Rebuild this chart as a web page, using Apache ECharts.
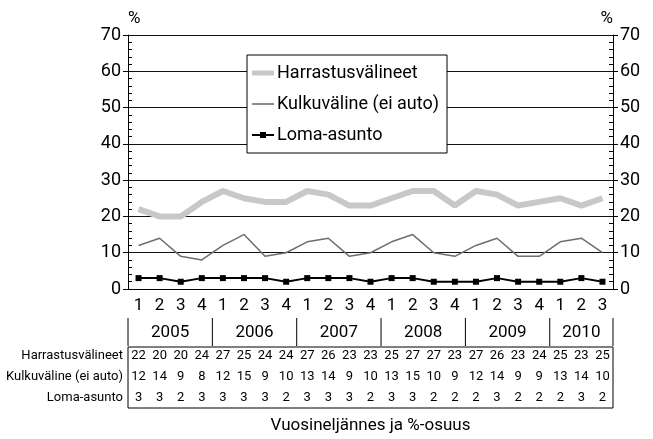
<!DOCTYPE html>
<html lang="fi">
  <head>
    <meta charset="UTF-8" />
    <title>Vuosineljännes ja %-osuus</title>
    <script src="https://cdn.jsdelivr.net/npm/echarts@6/dist/echarts.min.js"></script>
    <style>
      body { margin: 0; background: #fff; }
    </style>
  </head>
  <body>
    <div id="main" style="width: 653px;height:439px;"></div>
    <script type="text/javascript">
      var quarters = ['1','2','3','4','1','2','3','4','1','2','3','4','1','2','3','4','1','2','3','4','1','2','3']
      var years = ['2005', '2006', '2007', '2008', '2009', '2010']
      var yearLen = [4, 4, 4, 4, 4, 3]
      var harrastus = [22, 20, 20, 24, 27, 25, 24, 24, 27, 26, 23, 23, 25, 27, 27, 23, 27, 26, 23, 24, 25, 23, 25]
      var kulku = [12, 14, 9, 8, 12, 15, 9, 10, 13, 14, 9, 10, 13, 15, 10, 9, 12, 14, 9, 9, 13, 14, 10]
      var loma = [3, 3, 2, 3, 3, 3, 3, 2, 3, 3, 3, 2, 3, 3, 2, 2, 2, 3, 2, 2, 2, 3, 2]
      var names = ['Harrastusvälineet', 'Kulkuväline (ei auto)', 'Loma-asunto']

      var font = "Roboto, 'DejaVu Sans Condensed', sans-serif"
      var myChart = echarts.init(document.getElementById('main'))

      // rivin luvut omana akselinaan
      function tableAxis(values, offset) {
        return {
          type: 'category',
          data: values.map(String),
          position: 'bottom',
          offset: offset,
          axisLine: { show: false },
          axisTick: { show: false },
          axisLabel: { fontFamily: font, fontSize: 13, color: '#000', margin: 0, verticalAlign: 'middle', interval: 0 }
        }
      }

      function yAxis(pos) {
        return {
          type: 'value',
          position: pos,
          min: 0,
          max: 70,
          interval: 10,
          name: '%',
          nameGap: 8,
          nameTextStyle: { fontFamily: font, fontSize: 17, color: '#000', align: pos === 'left' ? 'left' : 'right' },
          axisLine: { show: true, lineStyle: { color: '#000', width: 1 } },
          axisTick: { show: true, length: 5, lineStyle: { color: '#000' } },
          minorTick: { show: true, splitNumber: 5, length: -4, lineStyle: { color: '#000' } },
          axisLabel: { fontFamily: font, fontSize: 18, color: '#000', margin: 7 },
          splitLine: { show: pos === 'left', lineStyle: { color: '#111', width: 1 } }
        }
      }

      // legendan kuvakkeet: paksu palkki, ohut viiva, viiva + neliö
      var icons = [
        'path://M0,0 M22,12 M0,3.5 L22,3.5 L22,8.5 L0,8.5 Z',
        'path://M0,0 M22,12 M0,5.2 L22,5.2 L22,6.8 L0,6.8 Z',
        'path://M0,0 M22,12 M0,5 L8,5 L8,3 L14,3 L14,5 L22,5 L22,7 L14,7 L14,9 L8,9 L8,7 L0,7 Z'
      ]

      var option = {
        animation: false,
        grid: { left: 128, right: 40, top: 35, bottom: 150, containLabel: false },
        legend: {
          orient: 'vertical',
          left: 247,
          top: 55,
          padding: [9, 8, 9, 5],
          itemGap: 13,
          itemWidth: 22,
          itemHeight: 12,
          backgroundColor: '#fff',
          borderColor: '#000',
          borderWidth: 1,
          borderRadius: 0,
          textStyle: { fontFamily: font, fontSize: 18, color: '#000', padding: [0, 0, 0, -2] },
          data: names.map(function (n, k) { return { name: n, icon: icons[k] } })
        },
        xAxis: [
          {
            type: 'category',
            data: quarters,
            axisLine: { lineStyle: { color: '#000' } },
            axisTick: { show: false },
            axisLabel: { fontFamily: font, fontSize: 17, color: '#000', margin: 8, interval: 0 }
          },
          tableAxis(harrastus, 67),
          tableAxis(kulku, 88),
          tableAxis(loma, 109)
        ],
        yAxis: [yAxis('left'), yAxis('right')],
        series: [
          {
            name: names[0],
            type: 'line',
            data: harrastus,
            symbol: 'none',
            color: '#c8c8c8',
            lineStyle: { width: 6, color: '#c8c8c8' }
          },
          {
            name: names[1],
            type: 'line',
            data: kulku,
            symbol: 'none',
            color: '#6e6e6e',
            lineStyle: { width: 1.5, color: '#6e6e6e' }
          },
          {
            name: names[2],
            type: 'line',
            data: loma,
            symbol: 'rect',
            symbolSize: 6,
            color: '#000',
            lineStyle: { width: 2, color: '#000' },
            itemStyle: { color: '#000' }
          }
        ]
      }
      myChart.setOption(option)

      // vuosirivi, erottimet, rivien nimet ja taulukon kehys akselin mukaan
      var px = function (i) { return myChart.convertToPixel({ xAxisIndex: 0 }, i) }
      var band = px(1) - px(0)
      var graphics = []
      var start = 0
      var x0 = px(0) - band / 2
      graphics.push({ type: 'line', shape: { x1: x0, y1: 318, x2: x0, y2: 346 }, style: { stroke: '#000', lineWidth: 1 } })
      years.forEach(function (y, k) {
        var end = start + yearLen[k] - 1
        var cx = (px(start) + px(end)) / 2
        graphics.push({
          type: 'text', x: cx, y: 333,
          style: { text: y, fontFamily: font, fontSize: 17, fill: '#000', align: 'center', verticalAlign: 'middle' }
        })
        var bx = px(end) + band / 2
        graphics.push({ type: 'line', shape: { x1: bx, y1: 318, x2: bx, y2: 346 }, style: { stroke: '#000', lineWidth: 1 } })
        start = end + 1
      })
      var x1 = px(quarters.length - 1) + band / 2
      graphics.push({
        type: 'rect', shape: { x: x0, y: 347, width: x1 - x0, height: 61 },
        style: { fill: 'none', stroke: '#000', lineWidth: 1 }
      })
      var rowY = [356, 377, 398]
      names.forEach(function (n, k) {
        graphics.push({
          type: 'text', x: x0 - 5, y: rowY[k],
          style: { text: n, fontFamily: font, fontSize: 13, fill: '#000', align: 'right', verticalAlign: 'middle' }
        })
      })
      graphics.push({
        type: 'text', x: (x0 + x1) / 2, y: 426,
        style: { text: 'Vuosineljännes ja %-osuus', fontFamily: font, fontSize: 17, fill: '#000', align: 'center', verticalAlign: 'middle' }
      })
      myChart.setOption({ graphic: graphics })
    </script>
  </body>
</html>
